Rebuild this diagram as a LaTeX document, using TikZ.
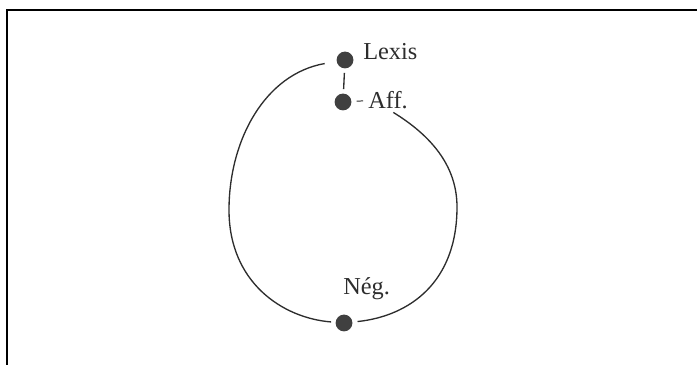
\documentclass[tikz,border=0pt]{standalone}
\usepackage{fontspec}
\setmainfont{Liberation Serif}
\usepackage{tikz}
\usetikzlibrary{positioning}
\definecolor{mydot}{RGB}{64,64,64}
\definecolor{myline}{RGB}{45,45,45}
\tikzset{
  dot/.style={circle, fill=mydot, draw=none, minimum size=0.42cm, inner sep=0pt},
  lbl/.style={font=\fontsize{17.3}{19}\selectfont, text=myline, inner sep=0pt},
  arc/.style={draw=myline, line width=0.95pt},
  frame/.style={draw=black, line width=1.5pt}
}
\begin{document}
\begin{tikzpicture}[x=0.025cm, y=-0.025cm]
  \useasboundingbox (0,0) rectangle (697,365);
  % Frame
  \draw[frame] (7,365) -- (7,10) -- (697,10);

  % Dots
  \node[dot] (lexis) at (345,60) {};
  \node[dot] (aff) at (343,102) {};
  \node[dot] (neg) at (344,323) {};

  % Labels
  \node[lbl, anchor=base west] (lexistxt) at (363,60) {Lexis};
  \node[lbl, anchor=base west] (afftxt) at (368,109) {Aff.};
  \node[lbl, anchor=base west] (negtxt) at (343,295) {Nég.};

  % Paths
  \draw[arc, shorten <=3pt, shorten >=3pt] (lexis) -- (aff);
  \draw[arc, line width=0.7pt, shorten <=3.5pt, shorten >=3.5pt] (aff) -- (afftxt.west);
  \draw[arc, shorten <=8.5pt, shorten >=3pt] (lexis) .. controls (265,74) and (229,140) .. (229,210)
    .. controls (229,282) and (282,318) .. (neg);
  \draw[arc, shorten >=3.5pt] ([xshift=4\pgflinewidth, yshift=-2pt]afftxt.south) .. controls (430,135) and (457,165) .. (457,207)
    .. controls (457,282) and (410,316) .. (neg);
\end{tikzpicture}
\end{document}
